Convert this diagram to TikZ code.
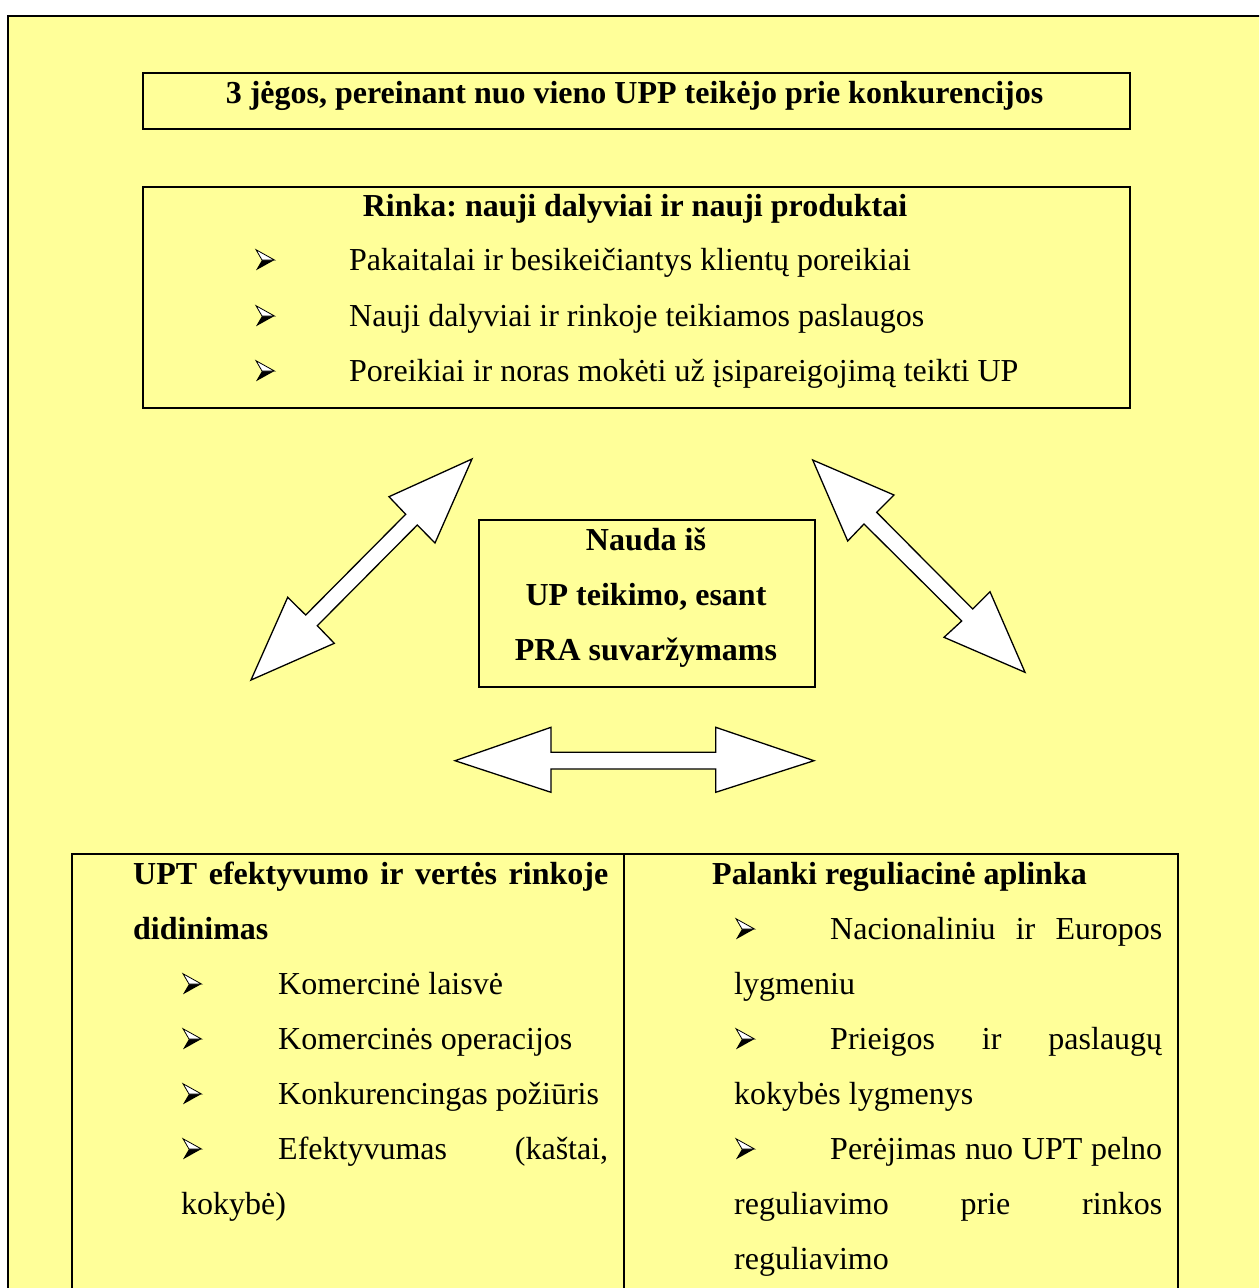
\documentclass[tikz,border=0pt]{standalone}
\usepackage{fontspec}
\setmainfont{Liberation Serif}
\frenchspacing
\definecolor{bg}{HTML}{FFFF99}
\begin{document}
\begin{tikzpicture}[x=1pt,y=-1pt,
  box/.style={draw=black,line width=1.5pt,rectangle,inner sep=0,anchor=north west},
  txt/.style={inner sep=0,anchor=base west,font=\fontsize{32}{38}\selectfont},
  ctxt/.style={txt,anchor=base},
  btxt/.style={txt,font=\fontsize{32}{38}\selectfont\bfseries},
  bctxt/.style={btxt,anchor=base},
  blockarrow/.style={draw=black,fill=white,line width=1.3pt,line join=miter},
  bul/.pic={
    \fill[black] (0,0.3) -- (6,-10) -- (18.5,-10) -- cycle;
    \filldraw[fill=white,draw=black,line width=0.8pt,line join=miter] (0,-20.3) -- (18.5,-10) -- (6,-10) -- cycle;
  }]
\useasboundingbox (0,0) rectangle (1259,1288);
\clip (0,0) rectangle (1259,1288);
\fill[white] (0,0) rectangle (1259,1288);
\draw[line width=2.6pt,fill=bg] (8,16) rectangle (1285,1310);

% boxes
\node[box,minimum width=987,minimum height=56] (titlebox) at (142,72) {};
\node[box,minimum width=987,minimum height=221] (rinkabox) at (142,186) {};
\node[box,minimum width=336,minimum height=167] (naudabox) at (478,519) {};
\node[box,minimum width=552,minimum height=460] (leftcell) at (71,853) {};
\node[box,minimum width=554,minimum height=460] (rightcell) at (623,853) {};

% title
\node[bctxt] (title) at (634.5,103) {3 jėgos, pereinant nuo vieno UPP teikėjo prie konkurencijos};

% rinka
\node[bctxt] (rinkah) at (635,216) {Rinka: nauji dalyviai ir nauji produktai};
\pic at (256,270) {bul};
\node[txt] (r1) at (349,270) {Pakaitalai ir besikeičiantys klientų poreikiai};
\pic at (256,326) {bul};
\node[txt] (r2) at (349,326) {Nauji dalyviai ir rinkoje teikiamos paslaugos};
\pic at (256,381) {bul};
\node[txt] (r3) at (349,381) {Poreikiai ir noras mokėti už įsipareigojimą teikti UP};

% nauda
\node[bctxt] (n1) at (646,550) {Nauda iš};
\node[bctxt] (n2) at (646,605) {UP teikimo, esant};
\node[bctxt] (n3) at (646,660) {PRA suvaržymams};

% block arrows
\draw[blockarrow] (472,459) -- (435,543) -- (417.3,525) -- (317.3,625.7) -- (334.3,643.3) -- (251,680) -- (287.7,597.3) -- (305.7,615) -- (405.7,514.3) -- (389,496.7) -- cycle;
\draw[blockarrow] (812.7,460) -- (894,495) -- (876.7,512.3) -- (972.7,609) -- (990,591.7) -- (1025,672.3) -- (944,637.3) -- (961.7,621) -- (864,524) -- (847.7,541) -- cycle;
\draw[blockarrow] (455,760.7) -- (551,727.3) -- (551,752.3) -- (715.7,752.3) -- (715.7,727.3) -- (814,760.7) -- (715.7,792.3) -- (715.7,769) -- (551,769) -- (551,792.3) -- cycle;

% left cell
\node[btxt] (l0) at (133,884) {\hbox to 475pt{UPT\hfill efektyvumo\hfill ir\hfill vertės\hfill rinkoje}};
\node[btxt] (l1) at (133,939) {didinimas};
\pic at (183,994) {bul};
\node[txt] (l2) at (278,994) {Komercinė laisvė};
\pic at (183,1049) {bul};
\node[txt] (l3) at (278,1049) {Komercinės operacijos};
\pic at (183,1104) {bul};
\node[txt] (l4) at (278,1104) {Konkurencingas požiūris};
\pic at (183,1159) {bul};
\node[txt] (l5) at (278,1159) {\hbox to 330pt{Efektyvumas\hfill(kaštai,}};
\node[txt] (l6) at (181,1214) {kokybė)};

% right cell
\node[btxt] (p0) at (712,884) {Palanki reguliacinė aplinka};
\pic at (736,939) {bul};
\node[txt] (p1) at (830,939) {\hbox to 332pt{Nacionaliniu\hfill ir\hfill Europos}};
\node[txt] (p2) at (734,994) {lygmeniu};
\pic at (736,1049) {bul};
\node[txt] (p3) at (830,1049) {\hbox to 332pt{Prieigos\hfill ir\hfill paslaugų}};
\node[txt] (p4) at (734,1104) {kokybės lygmenys};
\pic at (736,1159) {bul};
\node[txt] (p5) at (830,1159) {\hbox to 332pt{Perėjimas\hfill nuo\hfill UPT\hfill pelno}};
\node[txt] (p6) at (734,1214) {\hbox to 428pt{reguliavimo\hfill prie\hfill rinkos}};
\node[txt] (p7) at (734,1269) {reguliavimo};
\end{tikzpicture}
\end{document}
